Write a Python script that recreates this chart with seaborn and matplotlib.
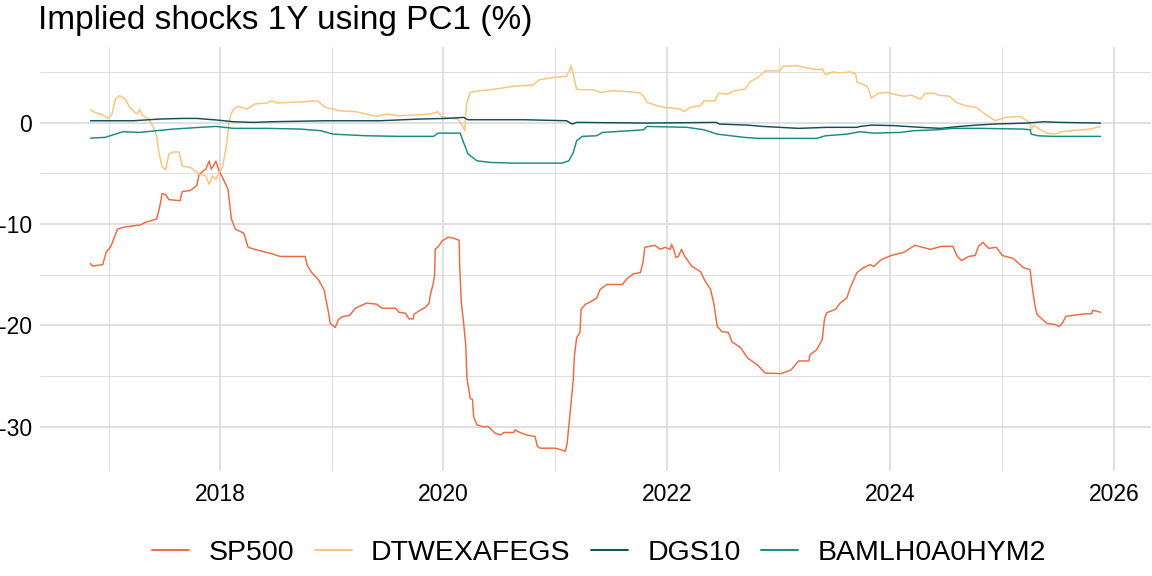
import matplotlib
matplotlib.use("Agg")
import matplotlib.pyplot as plt
import matplotlib.dates as mdates
import seaborn as sns
import pandas as pd
import numpy as np

# Valores (tempo em ano decimal, choque em %)
sp500_t = [2016.84, 2016.86, 2016.95, 2016.98, 2017.02, 2017.08, 2017.14, 2017.28, 2017.34, 2017.43,
           2017.45, 2017.48, 2017.51, 2017.54, 2017.64, 2017.66, 2017.73, 2017.79, 2017.81, 2017.87,
           2017.90, 2017.92, 2017.96, 2017.99, 2018.02, 2018.07, 2018.10, 2018.135, 2018.21, 2018.25,
           2018.31, 2018.45, 2018.54, 2018.76, 2018.78, 2018.82, 2018.88, 2018.93, 2018.97, 2018.985,
           2019.03, 2019.06, 2019.09, 2019.16, 2019.21, 2019.31, 2019.40, 2019.45, 2019.57, 2019.60,
           2019.66, 2019.69, 2019.73, 2019.735, 2019.79, 2019.84, 2019.87, 2019.88, 2019.905, 2019.92,
           2019.925, 2019.955, 2019.985, 2020.04, 2020.09, 2020.14, 2020.145, 2020.16, 2020.18, 2020.20,
           2020.21, 2020.24, 2020.26, 2020.27, 2020.30, 2020.36, 2020.40, 2020.46, 2020.51, 2020.54,
           2020.63, 2020.64, 2020.685, 2020.745, 2020.82, 2020.84, 2020.865, 2021.00, 2021.06, 2021.09,
           2021.105, 2021.12, 2021.14, 2021.16, 2021.17, 2021.19, 2021.22, 2021.23, 2021.27, 2021.31,
           2021.37, 2021.40, 2021.46, 2021.60, 2021.64, 2021.70, 2021.76, 2021.785, 2021.80, 2021.89,
           2021.94, 2021.98, 2022.03, 2022.04, 2022.06, 2022.08, 2022.10, 2022.13, 2022.16, 2022.22,
           2022.30, 2022.34, 2022.39, 2022.42, 2022.45, 2022.49, 2022.55, 2022.58, 2022.66, 2022.72,
           2022.81, 2022.88, 2023.02, 2023.11, 2023.18, 2023.27, 2023.28, 2023.34, 2023.39, 2023.41,
           2023.43, 2023.51, 2023.55, 2023.61, 2023.64, 2023.70, 2023.76, 2023.82, 2023.85, 2023.92,
           2024.01, 2024.12, 2024.22, 2024.36, 2024.46, 2024.56, 2024.60, 2024.64, 2024.70, 2024.76,
           2024.79, 2024.83, 2024.88, 2024.95, 2025.00, 2025.10, 2025.19, 2025.25, 2025.265, 2025.29,
           2025.31, 2025.36, 2025.40, 2025.47, 2025.51, 2025.54, 2025.57, 2025.64, 2025.74, 2025.80,
           2025.81, 2025.88]
sp500_v = [-13.9, -14.15, -14.0, -12.8, -12.2, -10.5, -10.3, -10.1, -9.8, -9.5,
           -8.7, -7.0, -7.1, -7.6, -7.7, -6.8, -6.7, -6.2, -5.1, -4.6,
           -3.8, -4.6, -3.8, -4.8, -5.4, -6.6, -9.5, -10.5, -10.9, -12.3,
           -12.5, -12.9, -13.2, -13.2, -14.1, -14.8, -15.5, -16.5, -18.75, -19.8,
           -20.2, -19.4, -19.15, -19.0, -18.3, -17.8, -17.9, -18.3, -18.3, -18.7,
           -18.8, -19.35, -19.35, -18.9, -18.5, -18.2, -17.8, -17.1, -15.96, -15.1,
           -12.5, -12.2, -11.7, -11.3, -11.4, -11.6, -14.1, -17.8, -19.7, -22.05,
           -25.2, -27.2, -27.3, -29.0, -29.8, -30.0, -29.96, -30.6, -30.8, -30.55,
           -30.55, -30.3, -30.55, -30.8, -30.95, -31.9, -32.1, -32.1, -32.3, -32.4,
           -31.6, -29.96, -27.65, -25.35, -23.0, -21.2, -20.7, -18.4, -17.9, -17.7,
           -17.3, -16.45, -15.96, -15.96, -15.4, -14.9, -14.8, -13.75, -12.3, -12.1,
           -12.5, -12.3, -12.5, -12.0, -12.5, -13.3, -13.2, -12.5, -13.2, -14.15,
           -14.7, -15.6, -16.45, -17.9, -20.1, -20.6, -20.7, -21.6, -22.2, -23.2,
           -23.9, -24.7, -24.75, -24.4, -23.5, -23.5, -22.9, -22.4, -21.4, -19.4,
           -18.75, -18.4, -17.8, -17.3, -16.3, -14.8, -14.3, -14.0, -14.2, -13.5,
           -13.1, -12.8, -12.1, -12.5, -12.2, -12.2, -13.2, -13.6, -13.2, -13.1,
           -12.2, -11.8, -12.4, -12.3, -13.1, -13.4, -14.3, -14.5, -15.96, -17.8,
           -18.9, -19.4, -19.8, -19.9, -20.1, -19.75, -19.1, -19.0, -18.85, -18.85,
           -18.5, -18.7]

dtwex_t = [2016.84, 2016.88, 2016.95, 2017.00, 2017.03, 2017.06, 2017.10, 2017.15, 2017.19, 2017.25,
           2017.28, 2017.30, 2017.36, 2017.40, 2017.43, 2017.45, 2017.48, 2017.51, 2017.54, 2017.58,
           2017.63, 2017.66, 2017.73, 2017.81, 2017.87, 2017.90, 2017.93, 2017.96, 2017.99, 2018.02,
           2018.045, 2018.06, 2018.075, 2018.09, 2018.12, 2018.16, 2018.24, 2018.31, 2018.42, 2018.46,
           2018.51, 2018.64, 2018.75, 2018.87, 2018.94, 2019.01, 2019.07, 2019.22, 2019.40, 2019.49,
           2019.61, 2019.73, 2019.88, 2019.95, 2019.98, 2020.07, 2020.13, 2020.16, 2020.19, 2020.20,
           2020.21, 2020.24, 2020.33, 2020.42, 2020.51, 2020.63, 2020.80, 2020.86, 2021.00, 2021.10,
           2021.125, 2021.14, 2021.155, 2021.19, 2021.22, 2021.34, 2021.40, 2021.52, 2021.66, 2021.76,
           2021.79, 2021.82, 2021.91, 2021.98, 2022.06, 2022.12, 2022.15, 2022.21, 2022.30, 2022.33,
           2022.43, 2022.46, 2022.54, 2022.60, 2022.70, 2022.74, 2022.83, 2022.88, 2023.01, 2023.04,
           2023.16, 2023.27, 2023.36, 2023.39, 2023.42, 2023.48, 2023.54, 2023.64, 2023.69, 2023.70,
           2023.79, 2023.81, 2023.83, 2023.89, 2023.97, 2024.03, 2024.12, 2024.19, 2024.27, 2024.31,
           2024.39, 2024.43, 2024.53, 2024.59, 2024.67, 2024.77, 2024.86, 2024.94, 2025.03, 2025.16,
           2025.22, 2025.25, 2025.26, 2025.28, 2025.34, 2025.40, 2025.47, 2025.53, 2025.61, 2025.79,
           2025.88]
dtwex_v = [1.27, 1.0, 0.74, 0.41, 0.84, 2.3, 2.65, 2.3, 1.5, 0.84,
           1.27, 0.74, 0.35, -0.47, -1.3, -2.9, -4.4, -4.65, -3.1, -2.9,
           -2.9, -4.3, -4.4, -5.1, -5.25, -6.1, -5.25, -5.6, -4.9, -4.4,
           -2.95, -1.96, -0.3, 0.67, 1.33, 1.6, 1.33, 1.83, 1.93, 2.15,
           1.93, 2.0, 2.06, 2.15, 1.5, 1.33, 1.17, 1.07, 0.61, 0.84,
           0.67, 0.74, 0.84, 1.07, 0.61, 0.41, 0.35, -0.15, -0.8, 1.0,
           2.0, 2.98, 3.14, 3.24, 3.38, 3.58, 3.7, 4.23, 4.47, 4.56,
           5.1, 5.6, 4.96, 3.3, 3.24, 3.24, 2.98, 3.14, 3.04, 2.9,
           2.6, 2.0, 1.66, 1.5, 1.4, 1.33, 1.07, 1.5, 1.66, 2.15,
           2.15, 2.9, 2.8, 3.14, 3.3, 3.97, 4.6, 5.1, 5.1, 5.55,
           5.6, 5.35, 5.2, 5.3, 4.7, 5.0, 4.9, 5.0, 4.8, 4.0,
           3.6, 3.14, 2.4, 2.9, 2.98, 2.8, 2.6, 2.7, 2.3, 2.9,
           2.9, 2.7, 2.6, 2.0, 1.66, 1.5, 0.74, 0.18, 0.51, 0.61,
           0.18, 0.02, -0.7, -0.25, -0.7, -1.04, -1.14, -0.9, -0.8, -0.64,
           -0.38]

dgs10_t = [2016.84, 2017.22, 2017.46, 2017.66, 2017.79, 2017.97, 2018.12, 2018.30, 2018.45, 2018.94,
           2019.43, 2019.79, 2020.03, 2020.18, 2020.22, 2020.72, 2021.10, 2021.15, 2021.19, 2021.82,
           2022.44, 2022.47, 2022.72, 2022.86, 2023.01, 2023.18, 2023.43, 2023.70, 2023.73, 2023.83,
           2024.03, 2024.27, 2024.45, 2024.62, 2024.77, 2024.92, 2025.22, 2025.37, 2025.52, 2025.88]
dgs10_v = [0.18, 0.18, 0.35, 0.41, 0.41, 0.25, 0.08, 0.02, 0.08, 0.18,
           0.18, 0.35, 0.41, 0.51, 0.28, 0.28, 0.18, -0.15, 0.02, -0.05,
           0.02, -0.15, -0.25, -0.38, -0.47, -0.57, -0.47, -0.47, -0.38, -0.25,
           -0.3, -0.47, -0.57, -0.38, -0.25, -0.15, -0.05, 0.08, 0.02, -0.05]

baml_t = [2016.84, 2016.97, 2017.06, 2017.13, 2017.28, 2017.43, 2017.58, 2017.82, 2017.96, 2018.12,
          2018.42, 2018.72, 2018.90, 2019.01, 2019.31, 2019.61, 2019.91, 2019.95, 2020.15, 2020.18,
          2020.22, 2020.30, 2020.42, 2020.63, 2020.84, 2021.06, 2021.12, 2021.16, 2021.19, 2021.24,
          2021.37, 2021.42, 2021.67, 2021.79, 2021.82, 2022.18, 2022.33, 2022.45, 2022.69, 2022.83,
          2023.34, 2023.42, 2023.61, 2023.73, 2023.85, 2024.09, 2024.21, 2024.42, 2024.56, 2024.80,
          2025.19, 2025.25, 2025.26, 2025.32, 2025.46, 2025.88]
baml_v = [-1.53, -1.46, -1.14, -0.9, -0.97, -0.8, -0.64, -0.47, -0.38, -0.57,
          -0.57, -0.64, -0.8, -1.14, -1.3, -1.36, -1.36, -1.04, -1.04, -1.96,
          -3.1, -3.77, -3.93, -4.0, -4.0, -4.0, -3.77, -2.95, -1.8, -1.36,
          -1.3, -0.97, -0.8, -0.71, -0.38, -0.47, -0.71, -1.14, -1.46, -1.56,
          -1.56, -1.3, -1.14, -0.9, -1.04, -0.97, -0.8, -0.71, -0.57, -0.57,
          -0.64, -0.71, -1.14, -1.3, -1.36, -1.36]

series = ["SP500", "DTWEXAFEGS", "DGS10", "BAMLH0A0HYM2"]
cores = ["#EE6940", "#FDC27C", "#134E5A", "#168C82"]


def ano_para_data(anos):
    anos = np.asarray(anos)
    base = pd.to_datetime(anos.astype(int).astype(str) + "-01-01")
    return base + pd.to_timedelta((anos - anos.astype(int)) * 365.25, unit="D")


partes = []
for nome, t, v in zip(series, [sp500_t, dtwex_t, dgs10_t, baml_t],
                      [sp500_v, dtwex_v, dgs10_v, baml_v]):
    partes.append(pd.DataFrame({"data": ano_para_data(t), "choque": v, "serie": nome}))
df = pd.concat(partes, ignore_index=True)

sns.set_style("white")
plt.rcParams["font.family"] = ["Liberation Sans", "DejaVu Sans"]
plt.rcParams["axes.unicode_minus"] = False
plt.rcParams["text.color"] = "black"

fig = plt.figure(figsize=(11.52, 5.76), dpi=100)
ax = fig.add_axes([40 / 1152, 1 - 470.5 / 576, 1111 / 1152, 424 / 576])

sns.lineplot(data=df, x="data", y="choque", hue="serie", hue_order=series,
             palette=dict(zip(series, cores)), linewidth=1.05, ax=ax,
             estimator=None, sort=False)

ax.margins(x=0.05, y=0.05)

# Grade no estilo theme_minimal
ax.xaxis.set_major_locator(mdates.YearLocator(2))
ax.xaxis.set_minor_locator(mdates.YearLocator(1))
ax.xaxis.set_major_formatter(mdates.DateFormatter("%Y"))
ax.set_yticks([-30, -20, -10, 0])
ax.set_yticks([-25, -15, -5, 5], minor=True)
ax.grid(which="major", color="#D9D9D9", linewidth=1.15)
ax.grid(which="minor", color="#D9D9D9", linewidth=0.6)
ax.set_axisbelow(True)
for s in ax.spines.values():
    s.set_visible(False)
ax.tick_params(which="both", length=0, labelsize=16.5, colors="black")
ax.tick_params(axis="x", pad=9)
ax.tick_params(axis="y", pad=6)
ax.set_xlabel("")
ax.set_ylabel("")

handles, labels = ax.get_legend_handles_labels()
ax.get_legend().remove()
for h in handles:
    h.set_linewidth(1.4)
fig.legend(handles, labels, loc="center", bbox_to_anchor=(599 / 1152, 1 - 553 / 576),
           ncol=4, frameon=False, fontsize=20.5, handlelength=1.3,
           handletextpad=0.68, columnspacing=0.72)

fig.text(38 / 1152, 1 - 28.8 / 576, "Implied shocks 1Y using PC1 (%)",
         fontsize=24, va="baseline", ha="left", color="black")

plt.savefig("out.png", dpi=100)
plt.close()
